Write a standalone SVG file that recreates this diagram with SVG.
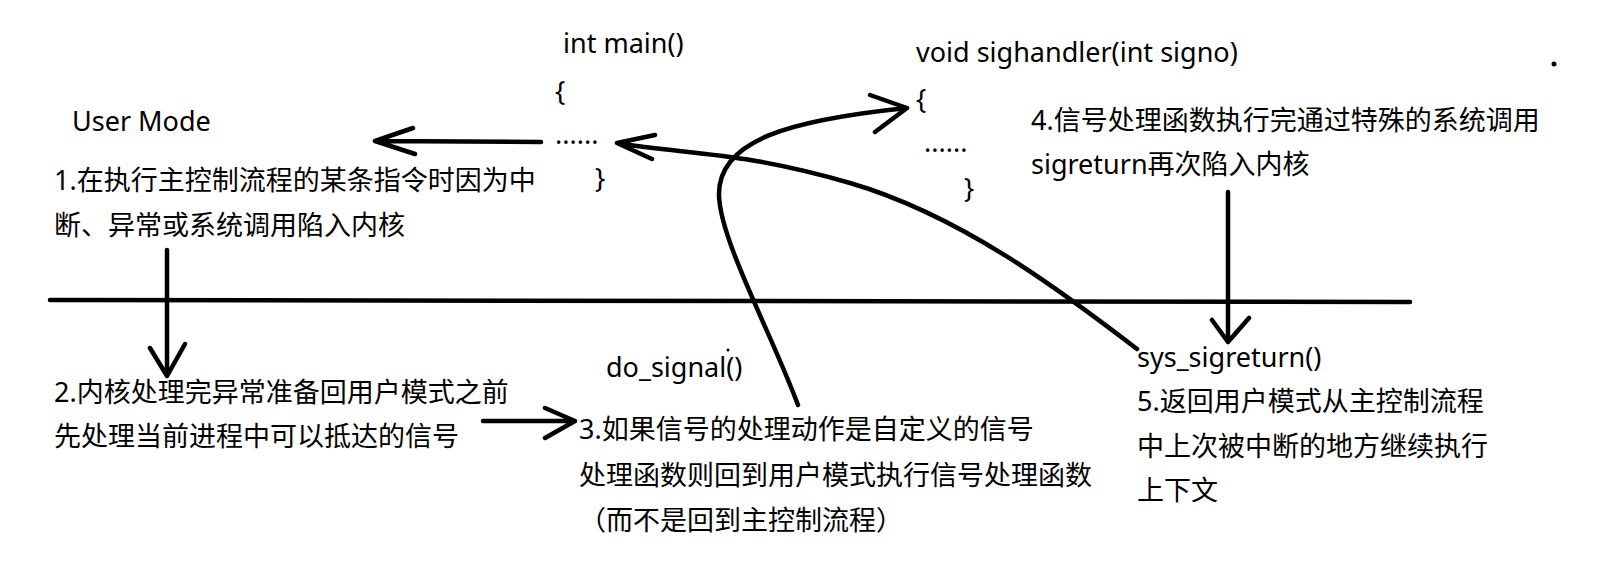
<svg xmlns="http://www.w3.org/2000/svg" width="1619" height="567" viewBox="0 0 1619 567">
<style>
text{font-family:"Noto Sans","Noto Sans CJK SC",sans-serif;font-size:27px;fill:#000}
.ln{fill:none;stroke:#000;stroke-width:4.5;stroke-linecap:round;stroke-linejoin:round}
</style>
<rect width="1619" height="567" fill="#fff"/>
<g id="connectors">
<line class="ln" x1="50" y1="300" x2="1410" y2="302"/>
<path class="ln" d="M541,142 L375,141 M413,128 L375,141 L415,154"/>
<path class="ln" d="M167,250 L167,376 M150,348 L167,376 L185,344"/>
<path class="ln" d="M483,421 L575,421 M545,408 L575,421 L545,438"/>
<path class="ln" d="M1228,192 L1228,342 M1212,320 L1228,342 L1249,318"/>
<path class="ln" d="M798,405 C770,330 720,240 719,195 C718,140 790,120 907,108 M870,95 L907,108 L875,132"/>
<path class="ln" d="M1137,349 C1060,290 960,215 850,183 S690,155 617,143 M655,135 L617,143 L652,159"/>
<circle cx="1554" cy="64" r="2.5" fill="#000"/>
<circle cx="728" cy="350" r="1.5" fill="#000"/>
</g>
<g id="user-mode"><text x="72" y="131">User Mode</text></g>
<g id="main-func">
<text x="563" y="53">int main()</text>
<text x="555" y="101">{</text>
<text x="555" y="144">......</text>
<text x="595" y="188">}</text>
</g>
<g id="sighandler-func">
<text x="916" y="62">void sighandler(int signo)</text>
<text x="916" y="109">{</text>
<text x="924" y="152">......</text>
<text x="964" y="198">}</text>
</g>
<g id="step1">
<text x="54" y="190">1.在执行主控制流程的某条指令时因为中</text>
<text x="54" y="235">断、异常或系统调用陷入内核</text>
</g>
<g id="step2">
<text x="54" y="402">2.内核处理完异常准备回用户模式之前</text>
<text x="54" y="446">先处理当前进程中可以抵达的信号</text>
</g>
<g id="do-signal"><text x="606" y="377">do_signal()</text></g>
<g id="step3">
<text x="579" y="439">3.如果信号的处理动作是自定义的信号</text>
<text x="579" y="485">处理函数则回到用户模式执行信号处理函数</text>
<text x="579" y="530">（而不是回到主控制流程）</text>
</g>
<g id="step4">
<text x="1031" y="130">4.信号处理函数执行完通过特殊的系统调用</text>
<text x="1031" y="174">sigreturn再次陷入内核</text>
</g>
<g id="sys-sigreturn"><text x="1137" y="367">sys_sigreturn()</text></g>
<g id="step5">
<text x="1137" y="411">5.返回用户模式从主控制流程</text>
<text x="1137" y="456">中上次被中断的地方继续执行</text>
<text x="1137" y="500">上下文</text>
</g>
</svg>
